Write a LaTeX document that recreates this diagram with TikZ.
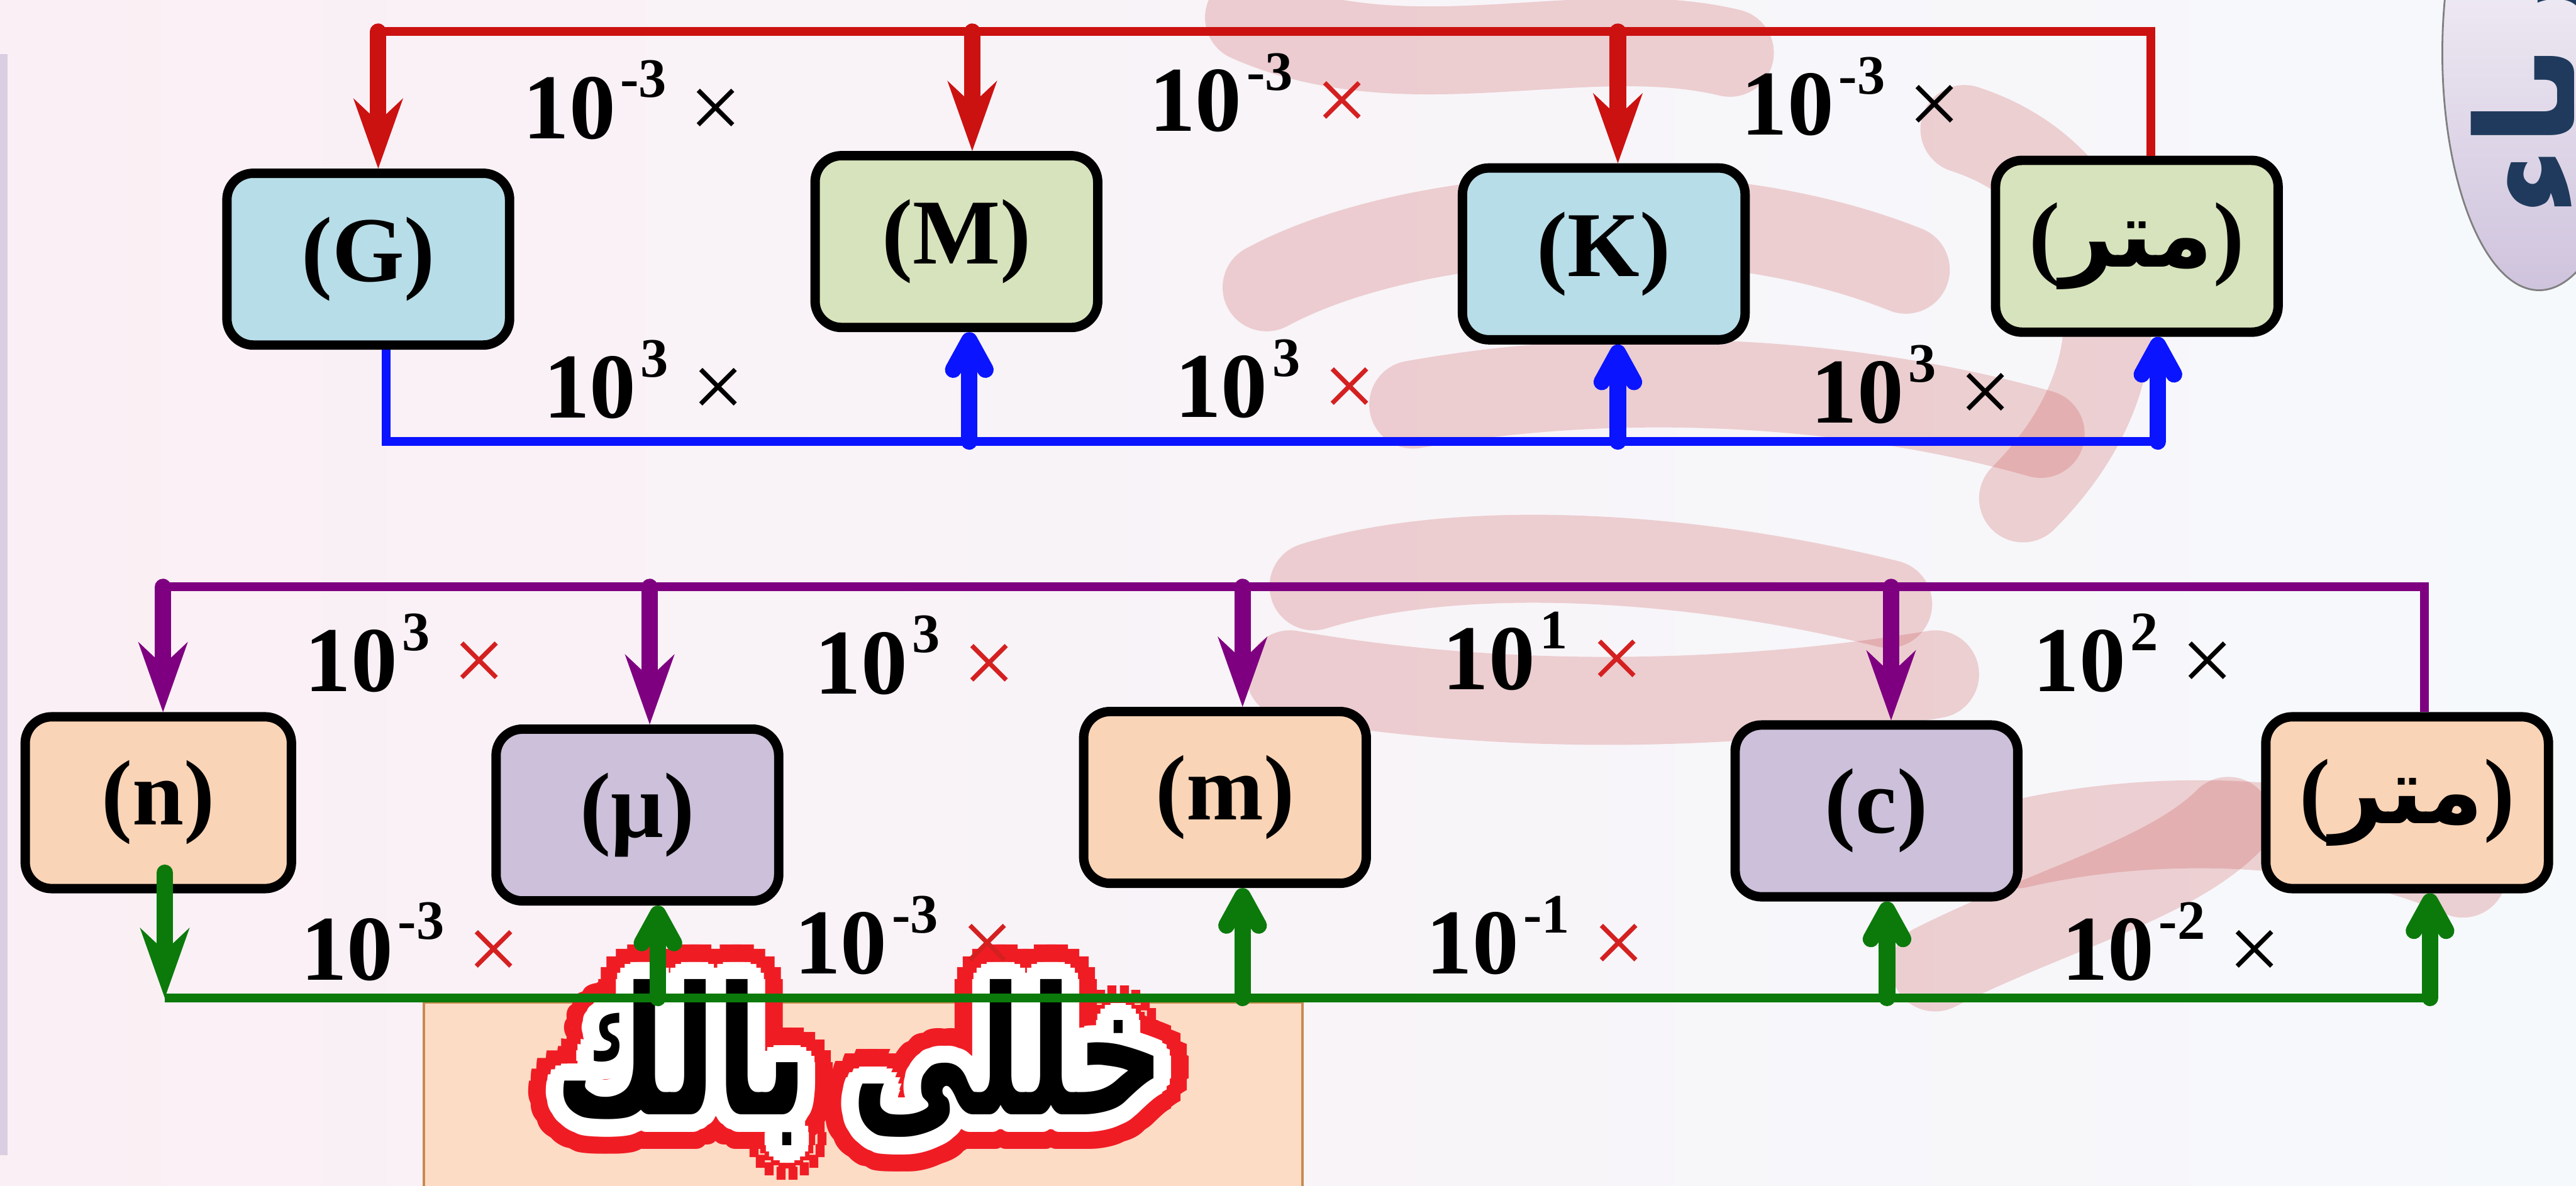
\documentclass[tikz,border=0pt]{standalone}
\usepackage{fontspec}
\setmainfont{Liberation Serif}
\newfontfamily\arabicfont[Script=Arabic]{DejaVu Sans}
\TeXXeTstate=1
\usepackage{xcolor}
\usepackage{tikz}
\usetikzlibrary{arrows.meta, calc}

\definecolor{boxblue}{HTML}{B7DDE8}
\definecolor{boxgreen}{HTML}{D7E3BC}
\definecolor{boxpeach}{HTML}{FAD4B6}
\definecolor{boxlav}{HTML}{CCC0DA}
\definecolor{lineRed}{HTML}{CC1111}
\definecolor{lineBlue}{HTML}{0A14FF}
\definecolor{linePurple}{HTML}{7E0080}
\definecolor{lineGreen}{HTML}{0B7A0B}
\definecolor{timesRed}{HTML}{D42020}
\definecolor{bgleft}{HTML}{FAEFF4}
\definecolor{bgright}{HTML}{F6F9FC}
\definecolor{sideline}{HTML}{D9CEE2}
\definecolor{banpeach}{HTML}{FCDCC5}
\definecolor{banedge}{HTML}{C88A50}
\definecolor{banred}{HTML}{F01C24}
\definecolor{logolav}{HTML}{CFC3DD}
\definecolor{logonavy}{HTML}{1F3A5C}
\definecolor{ribbonred}{HTML}{C03030}

\tikzset{
  unitbox/.style={draw=black, line width=0.16cm, rounded corners=0.45cm,
    minimum width=4.82cm, minimum height=2.93cm, inner sep=0pt,
    font=\fontsize{45}{54}\selectfont\bfseries},
  busline/.style={line width=0.15cm},
  downarrow/.style={line width=0.28cm, line cap=round,
    -{Stealth[length=1.2cm, width=0.85cm, inset=0.4cm, line width=0pt]}},
  uparrow/.style={line width=0.28cm, line cap=round,
    -{Straight Barb[length=0.5cm, width=0.55cm, round]}},
  factor/.style={anchor=base west, inner sep=0pt,
    font=\fontsize{45}{54}\selectfont\bfseries},
  bantxt/.style={inner sep=0pt, font=\arabicfont\bfseries\fontsize{72}{80}\selectfont},
  ribbon/.style={ribbonred, opacity=0.2, line width=1.5cm, line cap=round},
}
\newcommand{\pw}[2]{10\hspace{0.08cm}\raisebox{0.7cm}{\fontsize{27}{27}\selectfont #1} {\mdseries\color{#2}×}}
\newcommand{\metre}{({\arabicfont\beginR متر\endR})}
\newcommand{\bantext}{\scalebox{0.83}[1.2]{\beginR خللى بالك\endR}}

\begin{document}
\begin{tikzpicture}
\useasboundingbox (0,0) rectangle (43.93,-20.22);

% Background
\fill[left color=bgleft, right color=bgright] (0,0) rectangle (43.93,-20.22);
\fill[sideline] (0,-0.92) rectangle (0.13,-19.7);

% Faded ribbon behind the chart
\draw[ribbon] (21.3,-0.3) .. controls (24,-1.5) and (27,-0.3) .. (29.5,-0.9);
\draw[ribbon] (21.6,-4.9) .. controls (24,-3.6) and (29,-3.2) .. (32.5,-4.6);
\draw[ribbon] (24.1,-6.9) .. controls (28,-6.2) and (32,-6.6) .. (34.8,-7.4);
\draw[ribbon] (33.5,-2.2) .. controls (36,-3) and (37,-6) .. (34.5,-8.5);
\draw[ribbon] (22.4,-10) .. controls (25,-9.2) and (29,-9.5) .. (32.2,-10.3);
\draw[ribbon] (22,-11.5) .. controls (26,-12.2) and (30,-12) .. (33,-11.5);
\draw[ribbon] (34.4,-14.4) .. controls (37,-13.8) and (40,-14) .. (42,-14.9);
\draw[ribbon] (33,-16.5) .. controls (35,-15.5) and (37,-15) .. (38,-14);

% Logo
\draw[draw=gray, line width=0.03cm, top color=white, bottom color=logolav]
  (43.3,-0.9) ellipse (1.65 and 4.05);
\node[rotate=90, anchor=west, inner sep=0pt, text=logonavy,
  font=\arabicfont\bfseries\fontsize{66}{72}\selectfont] (logo) at (43.3,-3.7) {\beginR فيزياء\endR};

% Banner
\draw[banedge, fill=banpeach, line width=0.05cm] (7.23,-17.09) rectangle (22.21,-20.5);
\coordinate (bt) at (14.67,-18.12);
\foreach \a in {0,20,...,340} {
  \node[bantxt, text=banred] at ($(bt)+(\a:0.6)$) {\bantext};
  \node[bantxt, text=banred] at ($(bt)+(\a:0.4)$) {\bantext};
}
\foreach \a in {0,20,...,340} {
  \node[bantxt, text=white] at ($(bt)+(\a:0.3)$) {\bantext};
  \node[bantxt, text=white] at ($(bt)+(\a:0.15)$) {\bantext};
}
\node[bantxt, text=black] (banner) at (bt) {\bantext};

% Top row: G, M, K, metre
\node[unitbox, fill=boxblue] (G) at (6.28,-4.42) {(G)};
\node[unitbox, fill=boxgreen] (M) at (16.31,-4.12) {(M)};
\node[unitbox, fill=boxblue] (K) at (27.35,-4.33) {(K)};
\node[unitbox, fill=boxgreen] (meterA) at (36.44,-4.20) {\metre};

\coordinate (rG) at (6.45,-0.54);
\coordinate (rM) at (16.58,-0.54);
\coordinate (rK) at (27.59,-0.54);
\coordinate (rE) at (36.68,-0.54);
\draw[busline, lineRed] (rG) -- (rE) -- (rE |- meterA.north);
\draw[downarrow, lineRed] (rG) -- (rG |- G.north);
\draw[downarrow, lineRed] (rM) -- (rM |- M.north);
\draw[downarrow, lineRed] (rK) -- (rK |- K.north);

\coordinate (bG) at (6.59,-7.53);
\coordinate (bM) at (16.53,-7.53);
\coordinate (bK) at (27.59,-7.53);
\coordinate (bE) at (36.80,-7.53);
\draw[busline, lineBlue] (bG |- G.south) -- (bG) -- (bE);
\draw[uparrow, lineBlue] (bM) -- (bM |- M.south);
\draw[uparrow, lineBlue] (bK) -- (bK |- K.south);
\draw[uparrow, lineBlue] (bE) -- (bE |- meterA.south);

% Top row factors
\node[factor] (t1) at (8.91,-2.36) {\pw{-3}{black}};
\node[factor] (t2) at (19.59,-2.24) {\pw{-3}{timesRed}};
\node[factor] (t3) at (29.69,-2.30) {\pw{-3}{black}};
\node[factor] (t4) at (9.26,-7.13) {\pw{3}{black}};
\node[factor] (t5) at (20.03,-7.12) {\pw{3}{timesRed}};
\node[factor] (t6) at (30.88,-7.21) {\pw{3}{black}};

% Bottom row: n, mu, m, c, metre
\node[unitbox, fill=boxpeach, minimum width=4.54cm] (n) at (2.70,-13.69) {(n)};
\node[unitbox, fill=boxlav] (mu) at (10.87,-13.90) {(μ)};
\node[unitbox, fill=boxpeach] (m) at (20.89,-13.60) {(m)};
\node[unitbox, fill=boxlav] (c) at (32.00,-13.83) {(c)};
\node[unitbox, fill=boxpeach] (meterB) at (41.05,-13.69) {\metre};

\coordinate (pn) at (2.78,-10.01);
\coordinate (pmu) at (11.08,-10.01);
\coordinate (pm) at (21.19,-10.01);
\coordinate (pc) at (32.25,-10.01);
\coordinate (pE) at (41.34,-10.01);
\draw[busline, linePurple] (pn) -- (pE) -- (pE |- meterB.north);
\draw[downarrow, linePurple] (pn) -- (pn |- n.north);
\draw[downarrow, linePurple] (pmu) -- (pmu |- mu.north);
\draw[downarrow, linePurple] (pm) -- (pm |- m.north);
\draw[downarrow, linePurple] (pc) -- (pc |- c.north);

\coordinate (gn) at (2.81,-17.02);
\coordinate (gmu) at (11.22,-17.02);
\coordinate (gm) at (21.19,-17.02);
\coordinate (gc) at (32.18,-17.02);
\coordinate (gE) at (41.44,-17.02);
\draw[busline, lineGreen] (gn) -- (gE);
\draw[downarrow, lineGreen] ($(n.south -| gn)+(0,0.35)$) -- (gn);
\draw[uparrow, lineGreen] (gmu) -- (gmu |- mu.south);
\draw[uparrow, lineGreen] (gm) -- (gm |- m.south);
\draw[uparrow, lineGreen] (gc) -- (gc |- c.south);
\draw[uparrow, lineGreen] (gE) -- (gE |- meterB.south);

% Bottom row factors
\node[factor] (b1) at (5.19,-11.79) {\pw{3}{timesRed}};
\node[factor] (b2) at (13.89,-11.83) {\pw{3}{timesRed}};
\node[factor] (b3) at (24.59,-11.76) {\pw{1}{timesRed}};
\node[factor] (b4) at (34.66,-11.79) {\pw{2}{black}};
\node[factor] (b5) at (5.12,-16.72) {\pw{-3}{timesRed}};
\node[factor] (b6) at (13.54,-16.61) {\pw{-3}{timesRed}};
\node[factor] (b7) at (24.31,-16.61) {\pw{-1}{timesRed}};
\node[factor] (b8) at (35.15,-16.72) {\pw{-2}{black}};
\end{tikzpicture}
\end{document}
